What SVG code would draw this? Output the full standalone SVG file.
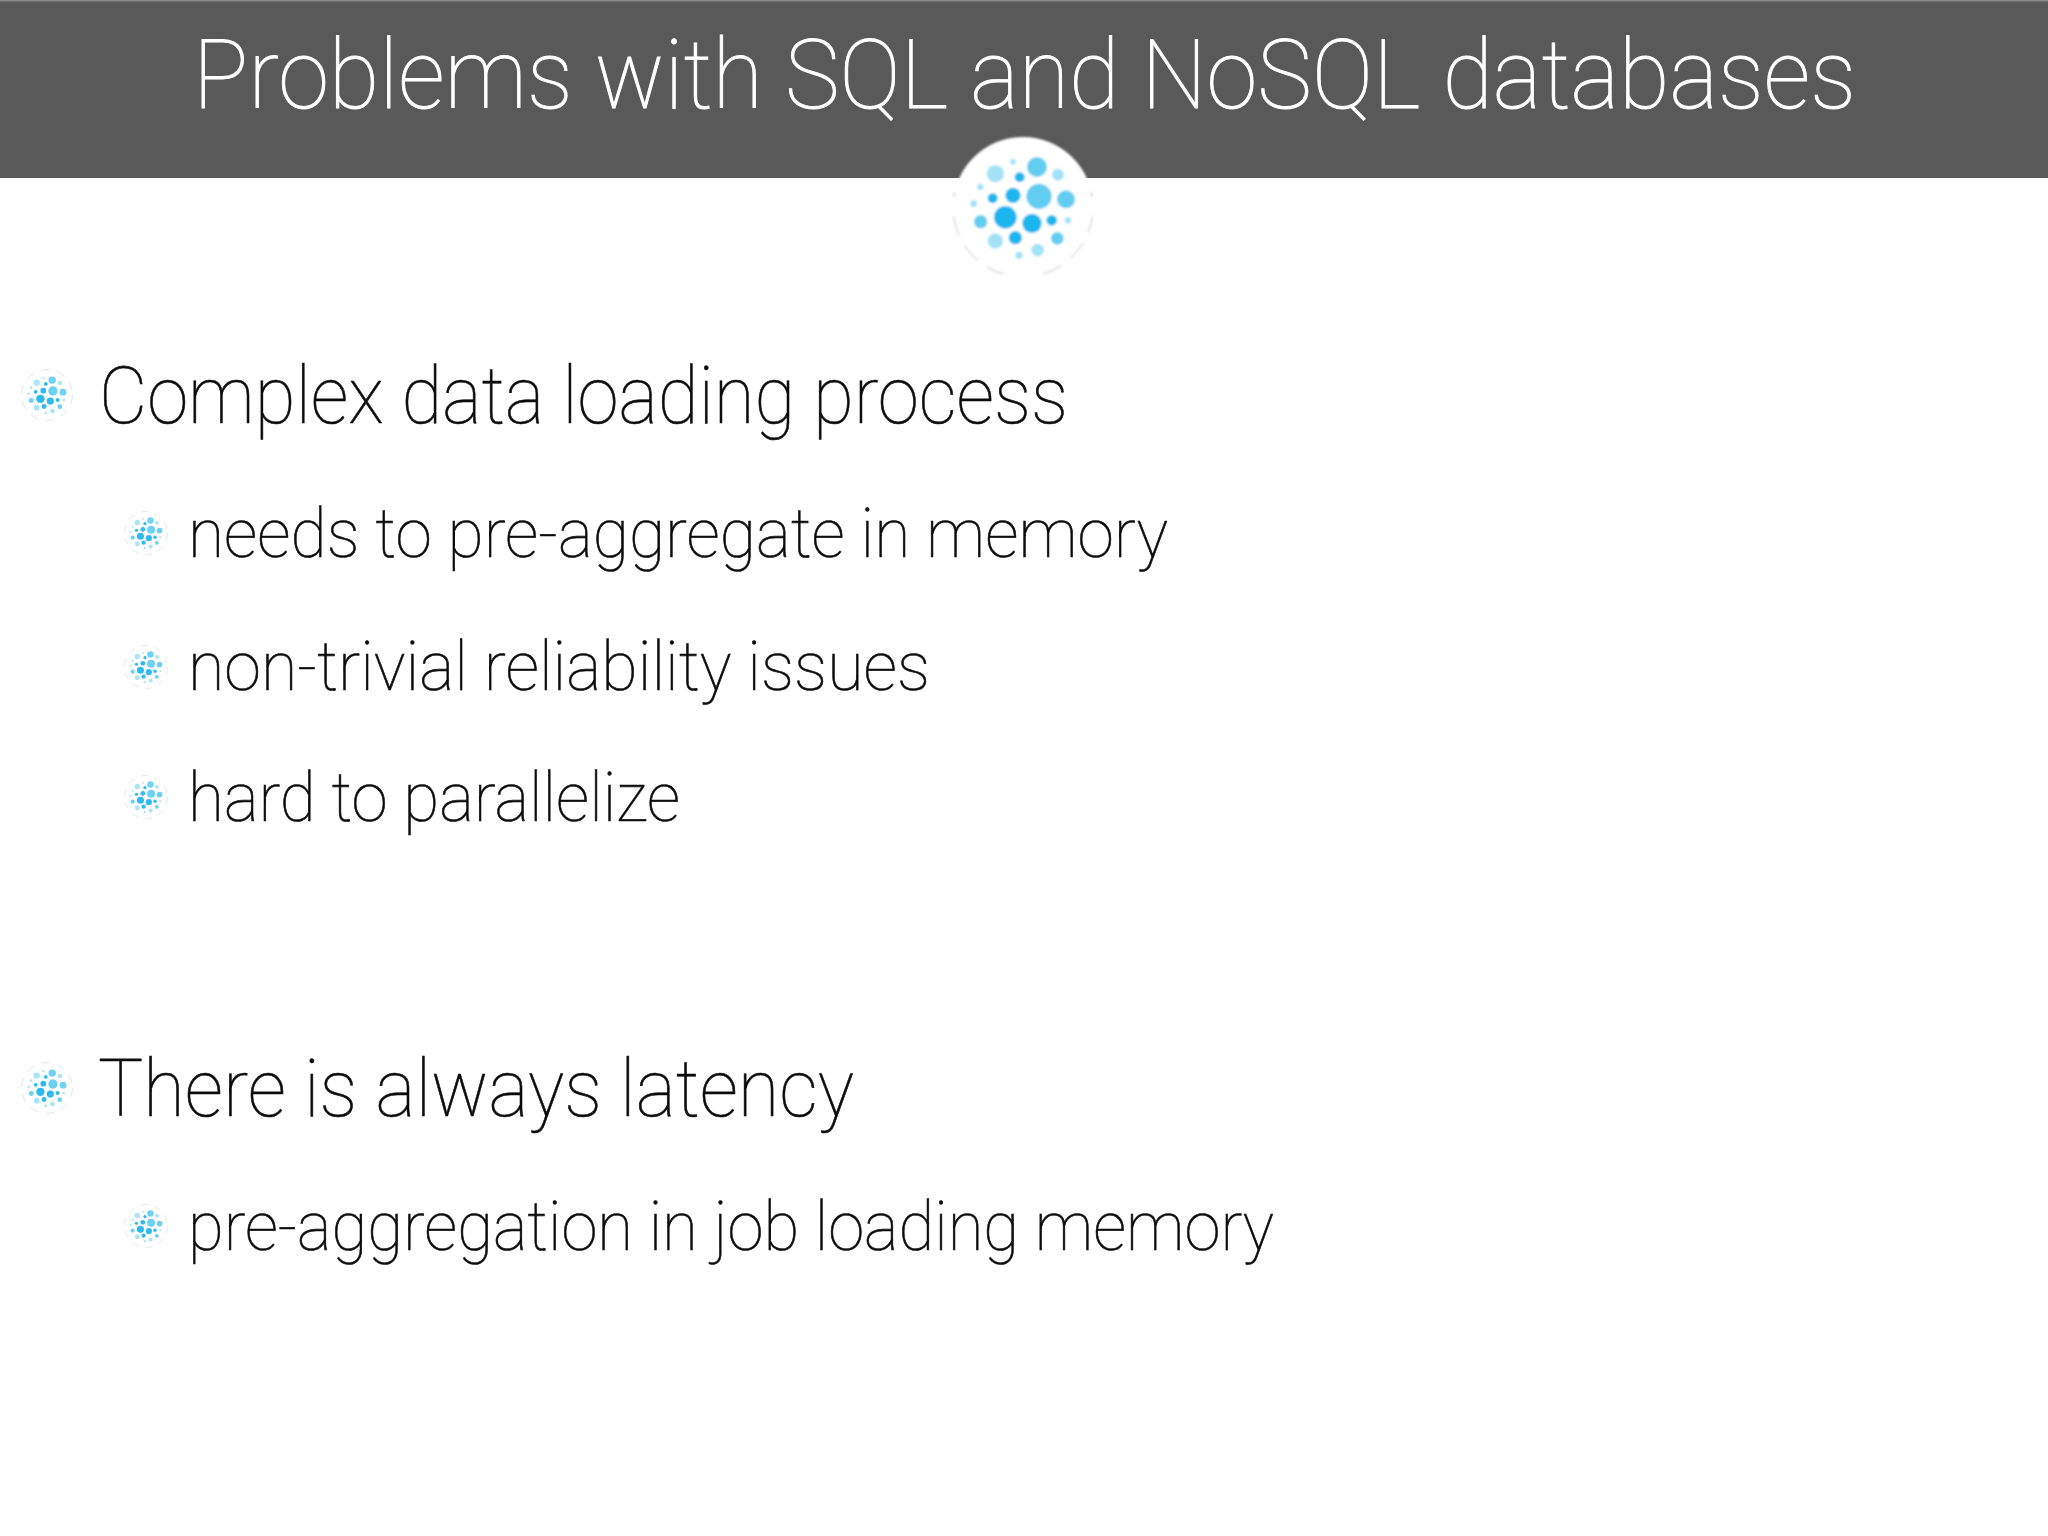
<svg xmlns="http://www.w3.org/2000/svg" width="2048" height="1536" viewBox="0 0 2048 1536">
<style>
text{font-family:"Roboto","Liberation Sans",sans-serif;font-weight:100}
.t{fill:#fff;stroke:#fff;stroke-width:.9px;font-size:96px}
.a{fill:#0c0c0c;stroke:#0c0c0c;stroke-width:.6px;font-size:80px}
.b{fill:#0c0c0c;stroke:#0c0c0c;stroke-width:.6px;font-size:68px}
.d{fill:#1db5ee}.m{fill:#62cdf1}.l{fill:#a3e2f6}
.s{opacity:.92;filter:url(#soft)}
.ring{fill:none;stroke:#c4c4c4;stroke-width:3;stroke-dasharray:60 35}
.ring2{fill:none;stroke:#dedede;stroke-width:7;stroke-dasharray:70 60}
</style>
<defs>
<filter id="soft" x="-10%" y="-10%" width="120%" height="120%"><feGaussianBlur stdDeviation="3"/></filter>
<g id="dots">
<circle class="m" cx="42" cy="-120" r="30"/><circle class="l" cx="-83" cy="-100" r="26"/><circle class="l" cx="105" cy="-97" r="18"/><circle class="l" cx="-30" cy="-136" r="9"/><circle class="d" cx="-10" cy="-89" r="15"/><circle class="l" cx="-128" cy="-60" r="10"/><circle class="d" cx="-91" cy="-26" r="15"/><circle class="d" cx="-30" cy="-35" r="23"/><circle class="m" cx="48" cy="-32" r="38"/><circle class="m" cx="129" cy="-23" r="27"/><circle class="l" cx="-148" cy="-10" r="10"/><circle class="d" cx="-53" cy="31" r="34"/><circle class="m" cx="-127" cy="44" r="20"/><circle class="d" cx="27" cy="49" r="29"/><circle class="d" cx="86" cy="40" r="16"/><circle class="l" cx="135" cy="40" r="10"/><circle class="l" cx="-83" cy="102" r="23"/><circle class="d" cx="-23" cy="92" r="20"/><circle class="m" cx="103" cy="94" r="19"/><circle class="l" cx="44" cy="129" r="19"/><circle class="l" cx="-12" cy="145" r="11"/>
</g>
<g id="logo">
<circle r="210" fill="#fff"/>
<use href="#dots"/>
<path class="ring" d="M-208,28A210,210 0 0 0 -60,201M60,201A210,210 0 0 0 208,28M-205,-45L-207,-30M205,-45L207,-30"/>
</g>
<g id="bullet">
<use href="#dots"/>
<circle class="ring2" r="205"/>
</g>
</defs>
<rect width="2048" height="1536" fill="#fff"/>
<g id="header">
<rect width="2048" height="178" fill="#595959"/>
<rect width="2048" height="1.5" fill="#8a8a8a"/>
<text class="t" x="193" y="108" textLength="1663" lengthAdjust="spacingAndGlyphs">Problems with SQL and NoSQL databases</text>
<g filter="url(#soft)" transform="translate(1023,207) scale(.3333)"><use href="#logo"/></g>
</g>
<g id="item1">
<use class="s" href="#bullet" transform="translate(47,395) scale(.124)"/>
<text class="a" x="99" y="423" textLength="969" lengthAdjust="spacingAndGlyphs">Complex data loading process</text>
</g>
<g id="item1a">
<use class="s" href="#bullet" transform="translate(146,533) scale(.105)"/>
<text class="b" x="188" y="557" textLength="980" lengthAdjust="spacingAndGlyphs">needs to pre-aggregate in memory</text>
</g>
<g id="item1b">
<use class="s" href="#bullet" transform="translate(146,667) scale(.105)"/>
<text class="b" x="188" y="690" textLength="742" lengthAdjust="spacingAndGlyphs">non-trivial reliability issues</text>
</g>
<g id="item1c">
<use class="s" href="#bullet" transform="translate(146,797) scale(.105)"/>
<text class="b" x="188" y="821" textLength="492" lengthAdjust="spacingAndGlyphs">hard to parallelize</text>
</g>
<g id="item2">
<use class="s" href="#bullet" transform="translate(47,1088) scale(.124)"/>
<text class="a" x="98" y="1116" textLength="756" lengthAdjust="spacingAndGlyphs">There is always latency</text>
</g>
<g id="item2a">
<use class="s" href="#bullet" transform="translate(146,1226) scale(.105)"/>
<text class="b" x="188" y="1250" textLength="1086" lengthAdjust="spacingAndGlyphs">pre-aggregation in job loading memory</text>
</g>
</svg>
